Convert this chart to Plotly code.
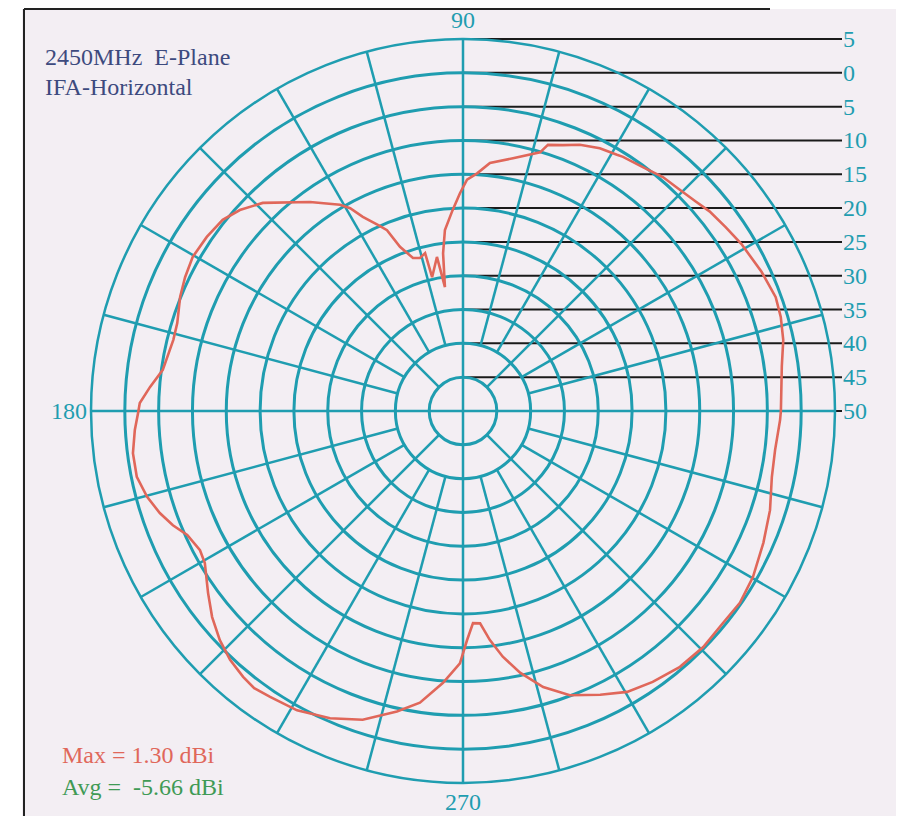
import math
import plotly.graph_objects as go

# ---------------- data ----------------
angle_deg = [0, 8, 12.5, 16.5, 20, 25, 31, 35, 39, 42, 45.5, 49.5, 53.6, 57.8, 59, 62.5, 66.3,
             69.4, 72.3, 73.4, 78.8, 83.8, 86.6, 89, 90.8, 93, 95.7, 97.2, 98.3,
             99.6, 103, 103.5, 105.7, 108.1, 111, 112.8, 114.5, 117.3, 119.1, 120.8, 126.2,
             133.9, 138, 141.5, 145.8, 150.3, 154.3, 158, 162.9, 166.2, 172.2, 175.6,
             178.6, 180.4, 183.3, 187.3, 191.4, 195.2, 198.6, 201.5, 204.2, 207.9, 210.5,
             215.5, 219.4, 223.3, 226.9, 230.4, 233, 236, 241, 246.6, 252, 257.6, 261.6,
             265.8, 269.3, 271, 272.7, 274.6, 276.7, 279.2, 282.3, 286.2, 290.6, 295.8,
             300.3, 305, 310.3, 315.5, 320.8, 325.3, 330.2, 336.3, 342.1, 347.9, 352.9,
             358.4, 360]
gain_dbi = [-3.0, -2.4, -1.5, -1.0, -0.8, -1.3, -2.0, -2.6, -3.1, -3.7, -4.2, -4.5, -5.2, -5.6, -5.8, -6.2, -7.0,
            -8.0, -8.7, -10.1, -11.9, -13.1, -14.8, -15.8, -17.8, -20.3, -23.1, -26.5, -31.5,
            -26.9, -29.7, -26.0, -26.5, -26.2, -24.0, -21.0, -19.8, -17.7, -15.7, -14.5, -11.7,
            -7.3, -5.6, -4.6, -4.2, -4.0, -4.4, -4.9, -5.8, -5.9, -5.2, -3.6,
            -2.2, -1.95, -1.4, -0.8, -0.8, -1.6, -2.7, -3.9, -5.3, -6.0, -5.7,
            -3.7, -2.0, -0.6, 0.4, 1.0, 1.3, 1.0, 0.6, -0.5, -2.0, -4.5, -6.4,
            -9.7, -12.7, -16.1, -18.6, -18.5, -15.9, -13.2, -10.4, -7.5, -5.1, -3.4,
            -1.9, -1.1, -0.4, -0.2, -0.4, -0.2, -0.6, -1.5, -2.3, -3.3, -3.5,
            -3.1, -3.0]

radial_ticks = [5, 0, -5, -10, -15, -20, -25, -30, -35, -40, -45, -50]
radial_labels = ["5", "0", "5", "10", "15", "20", "25", "30", "35", "40", "45", "50"]
angle_tickvals = [90, 180, 270]
angle_ticktext = ["90", "180", "270"]

title_lines = ["2450MHz  E-Plane", "IFA-Horizontal"]
max_text = "Max = 1.30 dBi"
avg_text = "Avg =  -5.66 dBi"

# ---------------- style ----------------
W, H = 904, 816
OFF = 8  # page body margin
CX, CY, R = 463 - OFF, 411 - OFF, 372
R_MIN, R_MAX = -50, 5
TEAL = "#1f9db0"
RED = "#e0675a"
GREEN = "#3f9a55"
NAVY = "#3d4a7e"
BG = "#f3eef3"
FONT = "Liberation Serif"
FS = 24


def px(x):
    return (x - OFF) / W


def py(y):
    return (H - (y - OFF)) / H


fig = go.Figure()

# spokes every 15 degrees
sp_r, sp_t = [], []
for a in range(0, 360, 15):
    if a % 90 == 0:
        start = R_MIN
    elif a % 45 == 0:
        start = -45
    else:
        start = -40
    sp_r += [start, R_MAX, None]
    sp_t += [a, a, None]
fig.add_trace(go.Scatterpolar(r=sp_r, theta=sp_t, mode="lines",
                              line=dict(color=TEAL, width=2.5),
                              hoverinfo="skip", showlegend=False))

fig.add_trace(go.Scatterpolar(r=gain_dbi, theta=angle_deg, mode="lines",
                              line=dict(color=RED, width=2.6),
                              showlegend=False))

fig.update_layout(
    width=W, height=H,
    margin=dict(l=0, r=0, t=0, b=0),
    paper_bgcolor="white",
    polar=dict(
        domain=dict(x=[(CX - R) / W, (CX + R) / W],
                    y=[(H - CY - R) / H, (H - CY + R) / H]),
        bgcolor="rgba(0,0,0,0)",
        radialaxis=dict(range=[R_MIN, R_MAX], tickvals=[v for v in radial_ticks if v > R_MIN],
                        showticklabels=False, ticks="", showline=False,
                        gridcolor=TEAL, gridwidth=2.5),
        angularaxis=dict(tickvals=angle_tickvals, showticklabels=False,
                         showgrid=False, ticks="", showline=True,
                         linecolor=TEAL, linewidth=2.5,
                         rotation=0, direction="counterclockwise"),
    ),
)

shapes = []
# background panel and frame
shapes.append(dict(type="rect", xref="paper", yref="paper", x0=px(22), x1=1, y0=0, y1=py(9),
                   fillcolor=BG, line=dict(width=0), layer="below"))
shapes.append(dict(type="line", xref="paper", yref="paper", x0=px(24), x1=px(24), y0=0, y1=py(9),
                   line=dict(color="#222", width=2), layer="below"))
shapes.append(dict(type="line", xref="paper", yref="paper", x0=px(24), x1=px(770), y0=py(9),
                   y1=py(9), line=dict(color="#222", width=2), layer="below"))

annotations = []
for v, lab in zip(radial_ticks, radial_labels):
    ypx = CY - (v - R_MIN) / (R_MAX - R_MIN) * R
    yp = (H - ypx) / H
    shapes.append(dict(type="line", xref="paper", yref="paper", x0=CX / W, x1=px(842),
                       y0=yp, y1=yp, line=dict(color="#1a1a1a", width=2), layer="below"))
    annotations.append(dict(xref="paper", yref="paper", x=px(841), y=yp, text=lab,
                            showarrow=False, xanchor="left", yanchor="middle",
                            font=dict(family=FONT, size=FS, color=TEAL)))

# angular labels just outside the outer ring
anchors = {90: ("center", "bottom"), 180: ("right", "middle"), 270: ("center", "top")}
for a, lab in zip(angle_tickvals, angle_ticktext):
    pad = 4 if a != 180 else 2
    rr = R + pad
    xpx = CX + rr * math.cos(math.radians(a))
    ypx = CY - rr * math.sin(math.radians(a))
    xa, ya = anchors[a]
    annotations.append(dict(xref="paper", yref="paper", x=xpx / W, y=(H - ypx) / H, text=lab,
                            showarrow=False, xanchor=xa, yanchor=ya,
                            font=dict(family=FONT, size=FS, color=TEAL)))

annotations.append(dict(xref="paper", yref="paper", x=px(43), y=py(57), text=title_lines[0],
                        showarrow=False, xanchor="left", yanchor="middle",
                        font=dict(family=FONT, size=FS, color=NAVY)))
annotations.append(dict(xref="paper", yref="paper", x=px(43), y=py(87), text=title_lines[1],
                        showarrow=False, xanchor="left", yanchor="middle",
                        font=dict(family=FONT, size=FS, color=NAVY)))
annotations.append(dict(xref="paper", yref="paper", x=px(60), y=py(755), text=max_text,
                        showarrow=False, xanchor="left", yanchor="middle",
                        font=dict(family=FONT, size=FS, color=RED)))
annotations.append(dict(xref="paper", yref="paper", x=px(60), y=py(787), text=avg_text,
                        showarrow=False, xanchor="left", yanchor="middle",
                        font=dict(family=FONT, size=FS, color=GREEN)))

fig.update_layout(shapes=shapes, annotations=annotations)
fig.write_html("out.html")
